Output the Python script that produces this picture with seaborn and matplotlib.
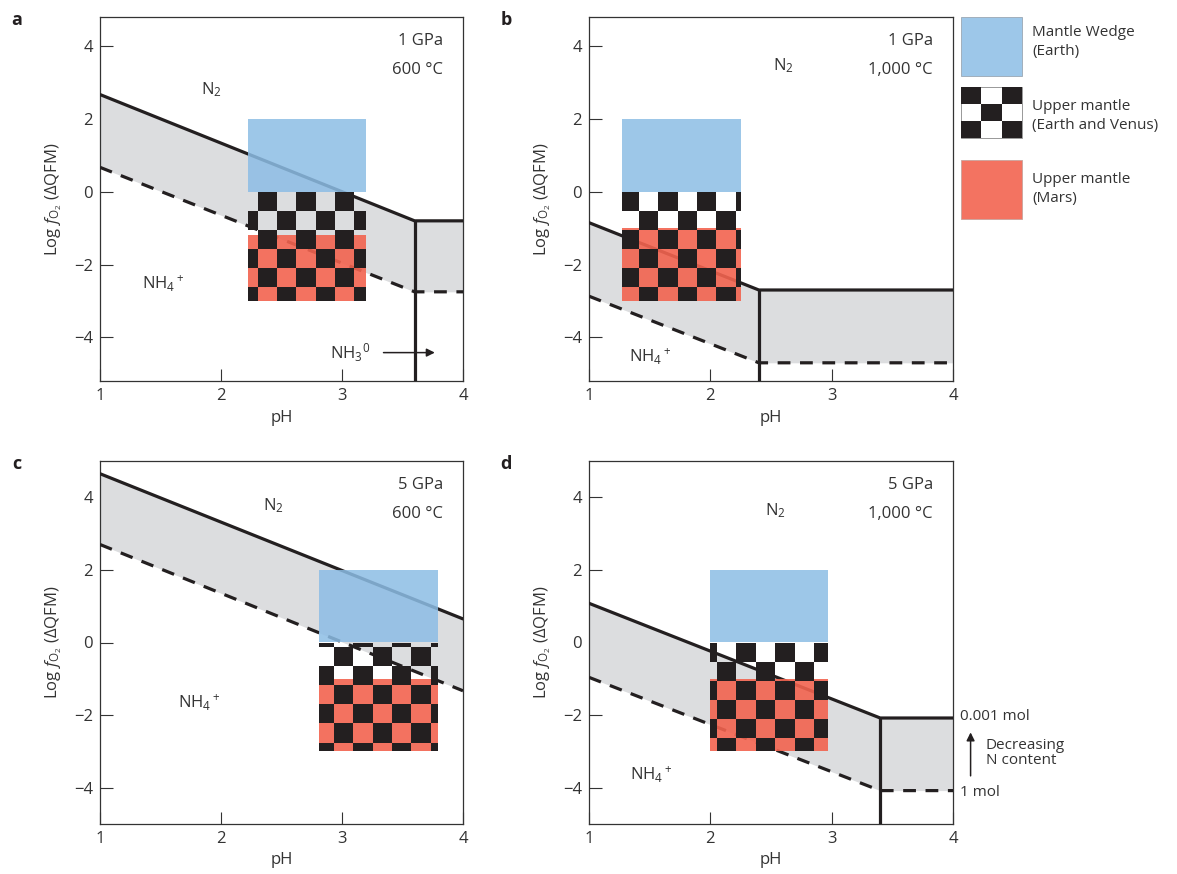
import numpy as np
import seaborn as sns
import matplotlib.pyplot as plt
from matplotlib.colors import ListedColormap
from matplotlib.patches import Rectangle

# Style
sns.set_theme(style="ticks")
plt.rcParams['font.family'] = ['Open Sans', 'DejaVu Sans']
plt.rcParams['mathtext.fontset'] = 'custom'
plt.rcParams['mathtext.rm'] = 'Open Sans'
plt.rcParams['mathtext.it'] = 'Open Sans:italic'
plt.rcParams['mathtext.bf'] = 'Open Sans:bold'

BLUE = '#9DC7E9'
RED = '#F37361'
BLUE_FILL = '#8CBDE5'   # drawn with alpha so lines show through
RED_FILL = '#F2634F'
BLACK = '#231F20'
GRAY = '#DCDDDF'
TXT = '#333333'
FS = 12

# Panel info
panels = ['a', 'b', 'c', 'd']
pressure = ['1 GPa', '1 GPa', '5 GPa', '5 GPa']
temperature = ['600 °C', '1,000 °C', '600 °C', '1,000 °C']
y_limits = [(-5.2, 4.8), (-5.2, 4.8), (-5.0, 5.0), (-5.0, 5.0)]

# N2 / NH4+ boundary: 0.001 mol N (solid) and 1 mol N (dashed)
bound_x = {'a': [1, 3.6, 4], 'b': [1, 2.4, 4], 'c': [1, 4], 'd': [1, 3.4, 4]}
solid_y = {'a': [2.67, -0.8, -0.8], 'b': [-0.85, -2.7, -2.7],
           'c': [4.65, 0.65], 'd': [1.08, -2.08, -2.08]}
dashed_y = {'a': [0.67, -2.75, -2.75], 'b': [-2.87, -4.7, -4.7],
            'c': [2.7, -1.33], 'd': [-0.96, -4.08, -4.08]}
# NH4+ / NH3 boundary (pH)
nh3_ph = {'a': 3.6, 'b': 2.4, 'c': None, 'd': 3.4}

# Mantle fields
box_ph = {'a': (2.22, 3.2), 'b': (1.27, 2.25), 'c': (2.81, 3.79), 'd': (2.0, 2.97)}
wedge_fo2 = (0, 2)
upper_fo2 = (-3, 0)
mars_top = {'a': -1.2, 'b': -1.0, 'c': -1.0, 'd': -1.0}

# Checker pattern phase (first column width, first row height, first cell black)
CELL_W, CELL_H = 0.16, 0.525
checker_phase = {'a': (0.083, 0.525, False), 'b': (0.14, 0.525, True),
                 'c': (0.124, 0.13, True), 'd': (0.055, 0.525, True)}

# Field labels
n2_pos = {'a': (1.92, 2.8), 'b': (2.6, 3.46), 'c': (2.43, 3.78), 'd': (2.54, 3.64)}
nh4_pos = {'a': (1.52, -2.5), 'b': (1.5, -4.5), 'c': (1.82, -1.65), 'd': (1.51, -3.62)}


def edges(lo, hi, first, step):
    e = [lo]
    v = lo + first
    while v < hi - 1e-6:
        e.append(v)
        v += step
    e.append(hi)
    return np.array(e)


def draw_checker(ax, xe, ye, black_first, zorder=5):
    ii, jj = np.meshgrid(np.arange(len(xe) - 1), np.arange(len(ye) - 1))
    black = ((ii + jj) % 2 == 0) == black_first
    z = np.ma.masked_where(~black, np.ones_like(ii, dtype=float))
    ax.pcolormesh(xe, ye, z, cmap=ListedColormap([BLACK]), shading='flat',
                  zorder=zorder, linewidth=0, antialiased=False)


W, H = 1177, 874
fig = plt.figure(figsize=(W / 100, H / 100), dpi=100)

# axes rectangles in pixels: left, top, right, bottom
rects = {'a': (100, 17, 463, 381), 'b': (589, 17, 953, 381),
         'c': (100, 461, 463, 824), 'd': (589, 461, 953, 824)}

for k, p in enumerate(panels):
    l, t, r, b = rects[p]
    ax = fig.add_axes([l / W, 1 - b / H, (r - l) / W, (b - t) / H])

    bx = bound_x[p]
    ax.fill_between(bx, dashed_y[p], solid_y[p], color=GRAY, lw=0, zorder=1)
    sns.lineplot(x=bx, y=solid_y[p], ax=ax, color=BLACK, lw=2.3,
                 sort=False, estimator=None, zorder=3)
    sns.lineplot(x=bx, y=dashed_y[p], ax=ax, color=BLACK, lw=2.3,
                 linestyle=(0, (4, 3)), sort=False, estimator=None, zorder=3)
    if nh3_ph[p] is not None:
        ax.plot([nh3_ph[p], nh3_ph[p]], [solid_y[p][1], y_limits[k][0]],
                color=BLACK, lw=2.3, zorder=3, solid_capstyle='butt')

    x0, x1 = box_ph[p]
    ax.fill_between([x0, x1], wedge_fo2[0], wedge_fo2[1], color=BLUE_FILL,
                    alpha=0.85, lw=0, zorder=4)
    ax.fill_between([x0, x1], upper_fo2[0], mars_top[p], color=RED_FILL,
                    alpha=0.9, lw=0, zorder=4)
    fw, fh, bf = checker_phase[p]
    xe = edges(x0, x1, fw, CELL_W)
    ye = -edges(-upper_fo2[1], -upper_fo2[0], fh, CELL_H)
    draw_checker(ax, xe, ye, bf)

    ax.text(*n2_pos[p], 'N$_2$', ha='center', va='center', fontsize=FS, color=TXT)
    ax.text(*nh4_pos[p], 'NH$_4$$^+$', ha='center', va='center', fontsize=FS, color=TXT)
    ax.text(0.945, 0.935, pressure[k], transform=ax.transAxes, ha='right',
            va='center', fontsize=FS, color=TXT)
    ax.text(0.945, 0.855, temperature[k], transform=ax.transAxes, ha='right',
            va='center', fontsize=FS, color=TXT)

    ax.set_xlim(1, 4)
    ax.set_ylim(*y_limits[k])
    ax.set_xticks([1, 2, 3, 4])
    ax.set_yticks([-4, -2, 0, 2, 4])
    ax.tick_params(direction='in', length=9, width=0.8, color=TXT,
                   labelsize=FS, labelcolor=TXT, pad=5)
    for s in ax.spines.values():
        s.set_visible(True)
        s.set_linewidth(0.9)
        s.set_color(TXT)
    ax.set_xlabel('pH', fontsize=FS, color=TXT, labelpad=4)
    ax.set_ylabel(r'Log $f_{\mathrm{O}_2}$ (ΔQFM)', fontsize=FS, color=TXT, labelpad=7)
    ax.set_facecolor('white')

    fig.text((l - 83) / W, 1 - (t + 3) / H, p, fontsize=13, fontweight='bold',
             color=BLACK, ha='center', va='center')

    if p == 'a':
        ax.text(2.9, -4.42, 'NH$_3$$^0$', ha='left', va='center', fontsize=FS, color=TXT)
        ax.annotate('', xy=(3.79, -4.42), xytext=(3.32, -4.42),
                    arrowprops=dict(arrowstyle='-|>', color=BLACK, lw=1.1,
                                    mutation_scale=12))
    if p == 'd':
        ax.text(4.06, -2.05, '0.001 mol', ha='left', va='center', fontsize=11,
                color=TXT, clip_on=False)
        ax.text(4.06, -4.12, '1 mol', ha='left', va='center', fontsize=11,
                color=TXT, clip_on=False)
        ax.annotate('', xy=(4.145, -2.4), xytext=(4.145, -3.75),
                    arrowprops=dict(arrowstyle='-|>', color=BLACK, lw=1.1,
                                    mutation_scale=12), annotation_clip=False)
        ax.text(4.27, -3.05, 'Decreasing\nN content', ha='left', va='center',
                fontsize=11, color=TXT, linespacing=0.95, clip_on=False)

# Legend
lax = fig.add_axes([955 / W, 1 - 225 / H, 222 / W, 225 / H])
lax.set_xlim(955, 1177)
lax.set_ylim(225, 0)
lax.axis('off')
lax.add_patch(Rectangle((961, 17), 61, 59, fc=BLUE, ec='#9aa7b3', lw=0.6))
draw_checker(lax, np.linspace(961, 1022, 4), np.linspace(87, 138, 4), True)
lax.add_patch(Rectangle((961, 87), 61, 51, fc='none', ec='#888888', lw=0.6))
lax.add_patch(Rectangle((961, 160), 61, 59, fc=RED, ec='#c9a39c', lw=0.6))
legend_labels = ['Mantle Wedge\n(Earth)', 'Upper mantle\n(Earth and Venus)',
                 'Upper mantle\n(Mars)']
for lab, yc in zip(legend_labels, [42, 116, 189]):
    lax.text(1032, yc, lab, ha='left', va='center', fontsize=11, color=TXT,
             linespacing=1.3)

fig.savefig('out.png', dpi=100)
